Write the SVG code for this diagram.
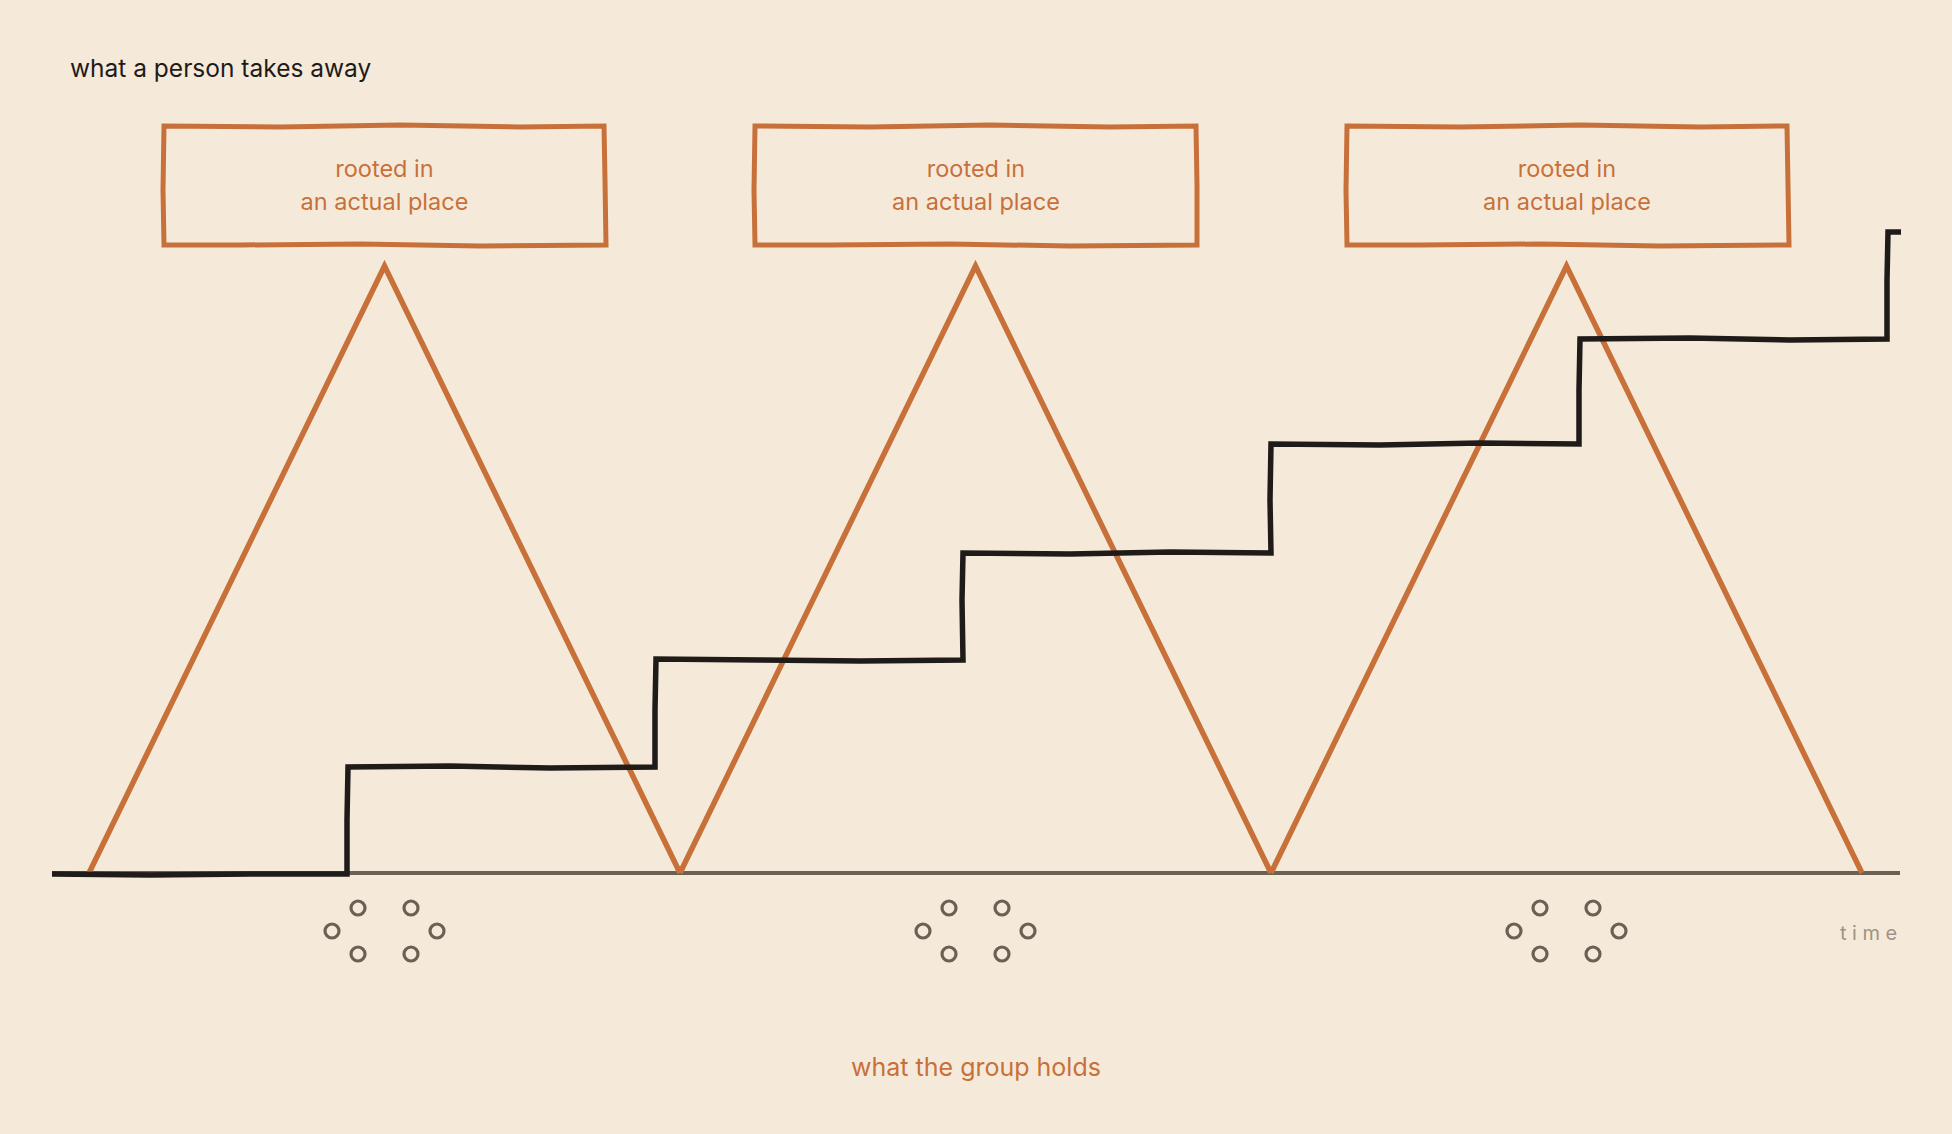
<svg xmlns="http://www.w3.org/2000/svg" width="1952" height="1134" viewBox="0 0 1952 1134">
<style>
.bg{fill:#F5EAD9}
.box{fill:none;stroke:#C8703A;stroke-width:5;stroke-linejoin:miter}
.tri{fill:none;stroke:#C8703A;stroke-width:5.5;stroke-linejoin:miter}
.boxt{font-family:Inter,"Open Sans",sans-serif;font-size:23.5px;fill:#C8703A;text-anchor:middle}
.title{font-family:Inter,"Open Sans",sans-serif;font-size:24.5px;fill:#1F1B19}
.group{font-family:Inter,"Open Sans",sans-serif;font-size:25px;fill:#C8703A;text-anchor:middle}
.time{font-family:Inter,"Open Sans",sans-serif;font-size:20px;fill:#9E9384;letter-spacing:5.5px}
.base{stroke:#6A6054;stroke-width:4;fill:none}
.step{fill:none;stroke:#1F1B19;stroke-width:5.5;stroke-linejoin:miter;stroke-linecap:butt}
.dot{fill:none;stroke:#6A6054;stroke-width:3.2}
</style>
<rect class="bg" x="0" y="0" width="1952" height="1134"/>
<text class="title" x="70" y="77">what a person takes away</text>
<g id="axis">
<line class="base" x1="52" y1="873" x2="1900" y2="873"/>
<text class="time" x="1840" y="940">time</text>
</g>
<g id="peak1">
<path class="box" d="M164,126 L280,127 L400,125 L520,127 L604,126 L605,180 L606,245 L480,246 L360,244 L240,245 L164,245 L163,190 Z"/>
<text class="boxt" x="384.5" y="177">rooted in</text>
<text class="boxt" x="384.5" y="210">an actual place</text>
<path class="tri" d="M89,873 L384.5,266 L680,873"/>
<g>
<circle class="dot" cx="358" cy="908" r="7"/><circle class="dot" cx="411" cy="908" r="7"/>
<circle class="dot" cx="332" cy="931" r="7"/><circle class="dot" cx="437" cy="931" r="7"/>
<circle class="dot" cx="358" cy="954" r="7"/><circle class="dot" cx="411" cy="954" r="7"/>
</g>
</g>
<g id="peak2">
<path class="box" d="M755,126 L870,127 L990,125 L1110,127 L1196,126 L1197,185 L1197,245 L1070,246 L950,244 L830,245 L755,245 L754,190 Z"/>
<text class="boxt" x="976" y="177">rooted in</text>
<text class="boxt" x="976" y="210">an actual place</text>
<path class="tri" d="M680,873 L975.5,266 L1271,873"/>
<g>
<circle class="dot" cx="949" cy="908" r="7"/><circle class="dot" cx="1002" cy="908" r="7"/>
<circle class="dot" cx="923" cy="931" r="7"/><circle class="dot" cx="1028" cy="931" r="7"/>
<circle class="dot" cx="949" cy="954" r="7"/><circle class="dot" cx="1002" cy="954" r="7"/>
</g>
</g>
<g id="peak3">
<path class="box" d="M1347,126 L1460,127 L1580,125 L1700,127 L1787,126 L1788,185 L1789,245 L1660,246 L1540,244 L1420,245 L1347,245 L1346,190 Z"/>
<text class="boxt" x="1567" y="177">rooted in</text>
<text class="boxt" x="1567" y="210">an actual place</text>
<path class="tri" d="M1271,873 L1566.5,266 L1862,873"/>
<g>
<circle class="dot" cx="1540" cy="908" r="7"/><circle class="dot" cx="1593" cy="908" r="7"/>
<circle class="dot" cx="1514" cy="931" r="7"/><circle class="dot" cx="1619" cy="931" r="7"/>
<circle class="dot" cx="1540" cy="954" r="7"/><circle class="dot" cx="1593" cy="954" r="7"/>
</g>
</g>
<g id="connectors">
<path class="step" d="M52,874 L150,875 L250,874 L347,874 L347,820 L348,767 L450,766 L550,768 L655,767 L655,710 L656,659 L760,660 L860,661 L963,660 L962,600 L963,553 L1070,554 L1170,552 L1271,553 L1270,500 L1271,444 L1380,445 L1480,443 L1579,444 L1579,390 L1580,339 L1690,338 L1790,340 L1887,339 L1887,280 L1888,232 L1901,232"/>
</g>
<text class="group" x="976" y="1076">what the group holds</text>
</svg>
